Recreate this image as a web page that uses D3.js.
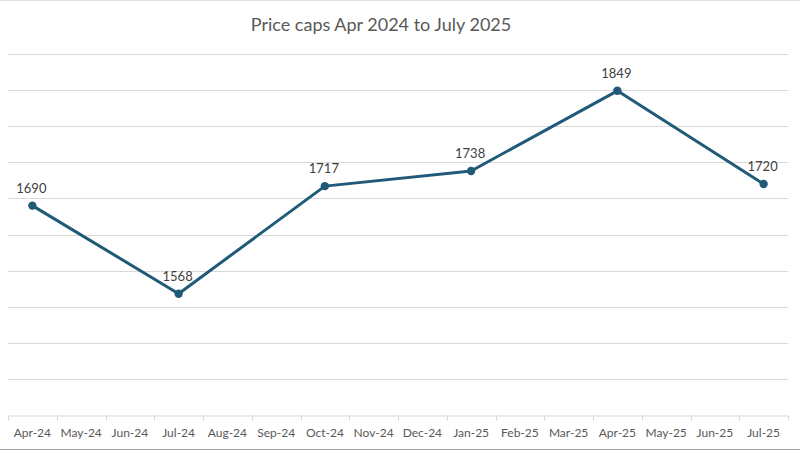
<!DOCTYPE html>
<html><head><meta charset="utf-8">
<script src="https://cdn.jsdelivr.net/npm/d3@7"></script>
<style>html,body{margin:0;padding:0;background:#fff;}svg{display:block;}</style>
</head><body>
<svg id="chart" width="800" height="450"></svg>
<script>
const categories = ["Apr-24","May-24","Jun-24","Jul-24","Aug-24","Sep-24","Oct-24","Nov-24","Dec-24","Jan-25","Feb-25","Mar-25","Apr-25","May-25","Jun-25","Jul-25"];
const pointMonths = ["Apr-24","Jul-24","Oct-24","Jan-25","Apr-25","Jul-25"];
const pointValues = [1690, 1568, 1717, 1738, 1849, 1720];
const yTicks = [1400,1450,1500,1550,1600,1650,1700,1750,1800,1850,1900];
const title = "Price caps Apr 2024 to July 2025";

(function(){
const svg = d3.select("#chart");
const W = 800, H = 450;
const pLeft = 8, pRight = 788, pTop = 54, pBottom = 415;
const font = "Lato, 'Open Sans', sans-serif";

const x = d3.scaleBand().domain(categories).range([pLeft, pRight]);
const y = d3.scaleLinear().domain([1400, 1900]).range([pBottom, pTop]);

// borders
svg.append("line").attr("x1",0).attr("x2",W).attr("y1",0.5).attr("y2",0.5).attr("stroke","#e3e3e3");
svg.append("line").attr("x1",0).attr("x2",W).attr("y1",449.5).attr("y2",449.5).attr("stroke","#a6a6a6");

// title
svg.append("text").attr("x",381).attr("y",31).attr("text-anchor","middle")
  .attr("font-family",font).attr("font-size",18).attr("fill","#595959").text(title);

// gridlines
svg.append("g").selectAll("line").data(yTicks.slice(1)).join("line")
  .attr("x1",pLeft).attr("x2",pRight)
  .attr("y1",d=>Math.round(y(d))+0.5).attr("y2",d=>Math.round(y(d))+0.5)
  .attr("stroke","#d9d9d9").attr("stroke-width",1);

// x axis
const xAxis = d3.axisBottom(x).tickSize(0).tickPadding(13);
const gx = svg.append("g").attr("transform",`translate(0,${Math.round(pBottom)+0.5})`).call(xAxis);
gx.select(".domain").attr("stroke","#d9d9d9");
gx.selectAll("text").attr("font-family",font).attr("font-size",12).attr("fill","#595959");
const bounds = categories.map(c=>x(c)).concat([pRight]);
gx.append("g").selectAll("line").data(bounds).join("line")
  .attr("x1",d=>Math.round(d)+0.5).attr("x2",d=>Math.round(d)+0.5)
  .attr("y1",0).attr("y2",5).attr("stroke","#d9d9d9");

const pts = pointMonths.map((m,i)=>({m, v: pointValues[i], cx: x(m)+x.bandwidth()/2, cy: y(pointValues[i])}));
const lineColor = "#215a78";

svg.append("path").datum(pts)
  .attr("d", d3.line().x(d=>d.cx).y(d=>d.cy))
  .attr("fill","none").attr("stroke",lineColor).attr("stroke-width",3).attr("stroke-linejoin","round");

svg.append("g").selectAll("circle").data(pts).join("circle")
  .attr("cx",d=>d.cx).attr("cy",d=>d.cy).attr("r",4.2).attr("fill",lineColor);

svg.append("g").selectAll("text").data(pts).join("text")
  .attr("x",d=>d.cx-1).attr("y",d=>d.cy-13).attr("text-anchor","middle")
  .attr("font-family",font).attr("font-size",13).attr("fill","#404040")
  .text(d=>d.v);
})();
</script>
</body></html>
